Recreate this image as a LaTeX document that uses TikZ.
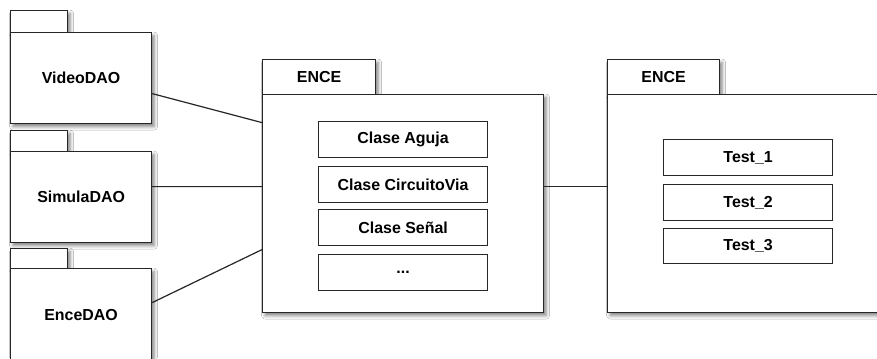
\documentclass[tikz,border=0pt]{standalone}
\usepackage{fontspec}
\setmainfont{Liberation Sans}
\usetikzlibrary{shadows.blur}
\begin{document}
\begin{tikzpicture}[x=1bp,y=-1bp,
  frame/.style={draw=black!85, line width=1.2bp, fill=white, inner sep=0pt,
    anchor=north west, font=\fontsize{16}{18}\selectfont\bfseries},
  pkg/.style={frame, blur shadow={shadow xshift=2.5bp, shadow yshift=-3bp,
    shadow blur radius=3.5bp, shadow opacity=50}},
  item/.style={frame, minimum width=169bp, minimum height=36bp},
  conn/.style={draw=black!85, line width=1.2bp}]
\fill[white] (0,0) rectangle (877,358);
\useasboundingbox (0,0) rectangle (877,358);
% left packages
\node[pkg, minimum width=57bp, minimum height=22bp] (vtab) at (10,10) {};
\node[pkg, minimum width=141bp, minimum height=91bp] (vbody) at (10,32) {VideoDAO};
\node[pkg, minimum width=57bp, minimum height=21bp] (stab) at (10,130) {};
\node[pkg, minimum width=141bp, minimum height=91bp] (sbody) at (10,151) {SimulaDAO};
\node[pkg, minimum width=57bp, minimum height=20bp] (etab) at (10,248) {};
\node[pkg, minimum width=141bp, minimum height=92bp] (ebody) at (10,268) {EnceDAO};
% middle package
\node[pkg, minimum width=113bp, minimum height=35bp] (mtab) at (262,59) {ENCE};
\node[pkg, minimum width=281bp, minimum height=218bp] (mbody) at (262,94) {};
\node[item] (c1) at (318,121) {Clase Aguja};
\node[item] (c2) at (318,166) {Clase CircuitoVia};
\node[item] (c3) at (318,209) {Clase Señal};
\node[item] (c4) at (318,254) {...};
% right package
\node[pkg, minimum width=112bp, minimum height=35bp] (rtab) at (607,59) {ENCE};
\node[pkg, minimum width=290bp, minimum height=218bp] (rbody) at (607,94) {};
\node[item] (t1) at (663,139) {Test\_1};
\node[item] (t2) at (663,184) {Test\_2};
\node[item, minimum height=35bp] (t3) at (663,228) {Test\_3};
% connectors
\draw[conn] ([yshift=-15.5bp]vbody.east) -- ([yshift=81bp]mbody.west);
\draw[conn] ([yshift=10.5bp]sbody.east) -- ([yshift=17bp]mbody.west);
\draw[conn] ([yshift=12bp]ebody.east) -- ([yshift=-46bp]mbody.west);
\draw[conn] ([yshift=17bp]mbody.east) -- ([yshift=17bp]rbody.west);
\end{tikzpicture}
\end{document}
